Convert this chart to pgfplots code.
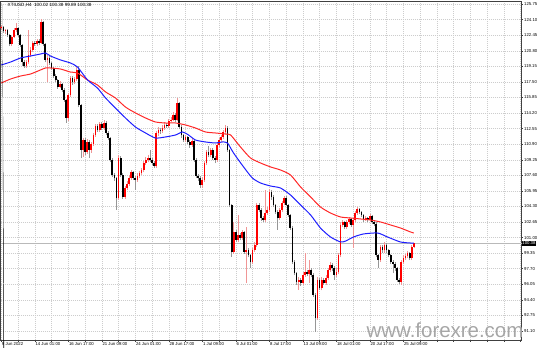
\documentclass[border=0pt]{standalone}
\usepackage{fontspec}
\setmainfont{Liberation Sans}
\usepackage{pgfplots}
\usepackage{pgfplotstable}
\pgfplotsset{compat=1.18}
\definecolor{bull}{RGB}{255,0,0}
\definecolor{bear}{RGB}{0,0,0}
\definecolor{wickup}{RGB}{240,150,150}
\definecolor{wickdn}{RGB}{150,150,150}
\definecolor{maRed}{RGB}{255,40,40}
\definecolor{maBlue}{RGB}{30,30,255}
\definecolor{gridc}{RGB}{205,205,205}
\newcommand{\tf}{\fontsize{4.3}{5}\selectfont}
\begin{document}
\begin{tikzpicture}
\pgfplotstableread{
i o h l c
0 123.21 123.52 123.00 123.31
1 123.31 123.42 122.68 122.89
2 122.89 123.10 122.57 122.99
3 122.99 123.10 122.25 122.46
4 122.46 122.57 121.30 121.51
5 121.51 122.35 121.30 122.25
6 122.25 123.21 122.10 122.99
7 122.99 123.74 122.80 123.21
8 123.21 123.31 122.30 122.46
9 122.46 122.60 121.20 121.41
10 121.41 121.50 119.18 119.60
11 119.60 119.80 118.97 119.18
12 119.18 119.82 119.00 119.60
13 119.60 122.99 119.40 120.35
14 120.35 121.20 120.10 120.87
15 120.87 121.83 120.70 121.62
16 121.62 121.83 121.30 121.51
17 121.51 122.04 121.30 121.83
18 121.83 122.04 121.40 121.62
19 121.62 124.16 121.50 123.84
20 123.84 123.95 121.30 121.51
21 121.51 121.62 119.60 119.82
22 119.82 120.35 117.48 120.03
23 120.03 120.20 119.30 119.50
24 119.50 119.60 118.76 118.97
25 118.97 119.10 117.91 118.12
26 118.12 118.30 117.48 117.70
27 117.70 117.80 116.75 116.97
28 116.97 117.60 116.80 117.27
29 117.27 117.40 116.40 116.64
30 116.64 116.80 115.40 115.58
31 115.58 115.70 113.14 113.67
32 113.67 116.30 113.35 116.11
33 116.11 118.12 115.90 117.91
34 117.91 118.10 117.20 117.48
35 117.48 118.00 117.30 117.80
36 117.80 119.18 117.60 118.76
37 118.76 119.18 114.80 115.05
38 115.05 115.20 109.43 110.28
39 110.28 111.60 109.54 111.34
40 111.34 111.50 109.80 110.07
41 110.07 111.40 109.90 111.13
42 111.13 111.30 109.43 110.28
43 110.28 111.10 110.00 110.91
44 110.91 112.10 110.70 111.87
45 111.87 113.00 111.70 112.82
46 112.82 113.00 112.20 112.40
47 112.40 113.20 112.20 113.03
48 113.03 113.20 112.40 112.61
49 112.61 113.46 112.40 113.14
50 113.14 113.30 111.90 112.08
51 112.08 112.30 111.30 111.56
52 111.56 111.70 109.00 109.22
53 109.22 109.40 107.40 107.63
54 107.63 107.80 107.00 107.31
55 107.31 107.40 103.92 105.19
56 105.19 109.75 105.00 109.43
57 109.43 109.60 107.40 107.63
58 107.63 107.80 105.10 105.30
59 105.30 106.50 105.10 106.25
60 106.25 107.00 106.00 106.68
61 106.68 107.60 106.50 107.31
62 107.31 108.20 107.10 107.95
63 107.95 108.10 107.10 107.31
64 107.31 107.50 106.04 107.10
65 107.10 107.80 106.90 107.52
66 107.52 108.10 107.30 107.84
67 107.84 108.40 107.60 108.16
68 108.16 109.10 107.90 108.90
69 108.90 109.50 108.70 109.22
70 109.22 109.70 109.00 109.43
71 109.43 110.28 109.00 109.22
72 109.22 109.40 108.70 108.90
73 108.90 109.10 108.37 108.58
74 108.58 112.30 108.40 112.08
75 112.08 112.70 111.80 112.40
76 112.40 112.60 112.00 112.29
77 112.29 112.90 112.10 112.61
78 112.61 113.20 112.40 112.93
79 112.93 113.10 112.60 112.82
80 112.82 113.60 112.60 113.35
81 113.35 113.77 113.20 113.46
82 113.46 114.30 113.30 113.99
83 113.99 114.20 113.20 113.46
84 113.46 115.79 113.30 115.26
85 115.26 115.40 112.50 112.71
86 112.71 112.90 111.60 111.87
87 111.87 112.00 111.10 111.34
88 111.34 111.90 111.10 111.66
89 111.66 111.80 110.90 111.13
90 111.13 111.30 110.50 110.81
91 110.81 111.50 110.60 111.23
92 111.23 111.40 109.00 109.22
93 109.22 109.40 107.30 107.52
94 107.52 107.70 107.00 107.31
95 107.31 107.50 106.25 106.57
96 106.57 107.40 106.30 107.10
97 107.10 109.10 106.90 108.90
98 108.90 110.30 108.70 110.07
99 110.07 110.70 109.50 109.75
100 109.75 110.50 109.50 110.28
101 110.28 110.50 109.20 109.43
102 109.43 109.60 108.90 109.22
103 109.22 111.00 109.00 110.81
104 110.81 111.60 110.60 111.34
105 111.34 111.90 111.10 111.66
106 111.66 112.40 111.40 112.19
107 112.19 112.93 112.00 112.61
108 112.61 112.82 110.10 110.28
109 110.28 110.40 104.20 104.45
110 104.45 104.60 98.94 99.47
111 99.47 102.65 99.30 101.59
112 101.59 101.80 100.50 100.74
113 100.74 103.39 100.50 101.27
114 101.27 101.50 100.70 100.95
115 100.95 101.80 100.70 101.59
116 101.59 101.70 99.30 99.47
117 99.47 102.12 96.18 99.68
118 99.68 99.90 98.90 99.15
119 99.15 99.30 97.77 98.41
120 98.41 99.90 98.20 99.68
121 99.68 100.50 99.50 100.21
122 100.21 104.70 100.00 104.45
123 104.45 104.70 103.70 103.92
124 103.92 104.10 102.80 103.07
125 103.07 103.30 102.60 102.86
126 102.86 106.04 102.70 103.60
127 103.60 104.20 103.40 103.92
128 103.92 106.10 103.70 105.83
129 105.83 106.04 105.00 105.30
130 105.30 105.50 104.20 104.45
131 104.45 104.60 103.50 103.71
132 103.71 103.90 101.80 103.07
133 103.07 104.10 102.90 103.92
134 103.92 104.90 103.70 104.66
135 104.66 105.40 104.40 105.19
136 105.19 105.40 104.30 104.45
137 104.45 104.60 103.20 103.39
138 103.39 103.50 101.80 102.01
139 102.01 102.20 98.20 98.41
140 98.41 98.60 97.00 97.24
141 97.24 97.40 96.00 96.29
142 96.29 96.80 95.44 96.50
143 96.50 96.70 95.90 96.18
144 96.18 97.30 96.00 97.03
145 97.03 99.36 96.80 97.35
146 97.35 97.60 96.90 97.14
147 97.14 98.62 96.18 97.56
148 97.56 97.80 96.80 97.03
149 97.03 97.20 94.70 94.91
150 94.91 95.10 90.99 92.47
151 92.47 96.80 92.26 96.50
152 96.50 96.70 95.40 95.66
153 95.66 96.80 95.40 96.50
154 96.50 96.70 95.97 96.18
155 96.18 97.00 96.00 96.71
156 96.71 97.80 96.50 97.56
157 97.56 98.40 97.30 98.09
158 98.09 98.30 97.50 97.77
159 97.77 98.00 96.50 97.03
160 97.03 97.80 96.80 97.35
161 97.35 99.40 97.10 99.15
162 99.15 102.60 98.90 102.33
163 102.33 102.90 102.10 102.65
164 102.65 102.80 101.90 102.12
165 102.12 102.90 101.90 102.65
166 102.65 103.20 102.40 102.97
167 102.97 103.10 102.10 102.33
168 102.33 103.10 99.89 102.86
169 102.86 103.80 102.60 103.60
170 103.60 104.24 103.40 104.03
171 104.03 104.10 103.50 103.71
172 103.71 103.80 103.20 103.39
173 103.39 103.50 102.70 102.97
174 102.97 103.30 102.80 103.07
175 103.07 103.20 102.60 102.86
176 102.86 103.50 102.60 103.28
177 103.28 103.40 102.40 102.65
178 102.65 102.80 102.20 102.44
179 102.44 102.60 98.90 99.15
180 99.15 99.30 97.77 98.62
181 98.62 100.20 98.40 99.99
182 99.99 100.20 99.40 99.68
183 99.68 100.50 99.40 100.21
184 100.21 100.40 99.40 99.68
185 99.68 99.80 98.90 99.15
186 99.15 99.30 98.20 98.41
187 98.41 98.60 97.24 98.20
188 98.20 98.40 97.50 97.77
189 97.77 97.90 96.30 96.50
190 96.50 96.70 96.08 96.29
191 96.29 98.60 95.97 98.41
192 98.41 99.10 98.20 98.83
193 98.83 99.30 98.60 99.05
194 99.05 99.60 98.80 99.36
195 99.36 99.50 98.60 98.83
196 98.83 100.20 98.60 100.02
197 100.02 100.38 99.89 100.38
}\data
\pgfplotstableread{
i p
0 119.29
4.4 119.60
9.2 120.03
13.9 120.24
18.7 120.45
21.1 120.56
23.5 120.24
28.3 119.82
33.0 119.50
36.4 119.07
41.2 117.70
45.9 116.85
49.8 115.79
54.5 114.73
59.3 113.67
64.1 112.71
68.9 112.08
73.6 111.55
78.4 111.66
83.2 111.87
86.5 112.19
89.4 111.87
92.7 111.34
97.5 111.13
102.3 111.02
105.6 111.13
108.0 111.02
110.9 109.96
115.7 108.48
119.9 107.31
123.8 106.78
128.6 106.46
133.3 106.25
138.1 105.51
142.9 104.45
147.7 103.39
152.4 102.01
157.2 101.06
162.0 100.53
164.4 100.63
168.2 101.06
173.0 101.38
179.7 101.48
184.4 101.06
190.6 100.53
195.4 100.42
197 100.42
}\blueMA
\pgfplotstableread{
i p
0 117.38
4.4 117.80
9.2 118.12
13.9 118.33
18.7 118.76
21.1 118.97
23.5 118.97
28.3 118.86
33.0 118.54
36.4 118.44
41.2 117.70
45.9 117.17
49.8 116.43
54.5 115.79
59.3 114.83
64.1 114.20
68.9 113.67
73.6 113.25
78.4 113.14
83.2 113.14
88.0 112.93
92.7 112.61
97.5 112.19
102.3 112.08
107.1 111.97
109.5 111.87
114.2 110.60
119.0 109.43
123.8 108.90
128.6 108.48
133.3 108.16
138.1 107.63
142.9 106.36
147.7 105.30
152.4 104.24
157.2 103.60
162.0 103.18
166.8 103.07
171.5 102.97
176.3 102.86
181.1 102.65
185.9 102.33
190.6 102.01
195.4 101.59
197 101.48
}\redMA
\begin{axis}[
  scale only axis, width=521bp, height=339bp,
  at={(0.5bp,0)}, anchor=south west,
  xmin=-0.38, xmax=248.4, ymin=90.14, ymax=126.07,
  clip=false,
  axis line style={black!75, line width=0.5bp},
  tick style={black!75, line width=0.4bp},
  tick align=outside, major tick length=1.5bp, minor tick length=1.5bp,
  xtick pos=bottom, ytick pos=right, yticklabel pos=right,
  xtick={0,16,...,240},
  minor xtick={8,24,...,248},
  xticklabels={9 Jun 2022,14 Jun 01:00,16 Jun 17:00,21 Jun 09:00,24 Jun 01:00,28 Jun 17:00,1 Jul 09:00,6 Jul 01:00,8 Jul 17:00,13 Jul 09:00,18 Jul 01:00,20 Jul 17:00,25 Jul 09:00,,,},
  ytick={91.10,92.75,94.40,96.05,97.70,99.35,101.00,102.65,104.30,105.95,107.60,109.25,110.90,112.55,114.20,115.85,117.50,119.15,120.80,122.45,124.10,125.75},
  yticklabels={91.10,92.75,94.40,96.05,97.70,99.35,101.00,102.65,104.30,105.95,107.60,109.25,110.90,112.55,114.20,115.85,117.50,119.15,120.80,122.45,124.10,125.75},
  xticklabel style={anchor=north west, inner sep=0.5bp, font=\tf},
  yticklabel style={anchor=west, inner sep=1bp, font=\tf},
  xmajorgrids, xminorgrids, ymajorgrids,
  major grid style={draw=gridc, line width=0.4bp, dash pattern=on 1bp off 1bp},
  minor grid style={draw=gridc, line width=0.4bp, dash pattern=on 1bp off 1bp},
  candle/.style={forget plot, draw=none, mark=none,
    error bars/y dir=plus, error bars/y explicit, error bars/error mark=none},
]
% bid line
\addplot[forget plot, gray!55, line width=0.4bp] coordinates {(-0.38,100.38) (248.4,100.38)};
% wicks
\addplot[candle, restrict expr to domain={\thisrow{c}-\thisrow{o}}{0:1000},
  error bars/error bar style={draw=wickup, line width=0.7bp}]
  table[x=i, y=l, y error expr=\thisrow{h}-\thisrow{l}] {\data};
\addplot[candle, restrict expr to domain={\thisrow{c}-\thisrow{o}}{-1000:-0.000001},
  error bars/error bar style={draw=wickdn, line width=0.7bp}]
  table[x=i, y=l, y error expr=\thisrow{h}-\thisrow{l}] {\data};
% bodies
\addplot[candle, restrict expr to domain={\thisrow{c}-\thisrow{o}}{0:1000},
  error bars/error bar style={draw=bull, line width=1.7bp}]
  table[x=i, y=o, y error expr=\thisrow{c}-\thisrow{o}] {\data};
\addplot[candle, restrict expr to domain={\thisrow{c}-\thisrow{o}}{-1000:-0.000001},
  error bars/error bar style={draw=bear, line width=1.7bp}]
  table[x=i, y=c, y error expr=\thisrow{o}-\thisrow{c}] {\data};
% moving averages
\addplot[maRed, line width=1bp, smooth, tension=0.4, mark=none] table[x=i, y=p] {\redMA};
\addplot[maBlue, line width=1bp, smooth, tension=0.4, mark=none] table[x=i, y=p] {\blueMA};
% price box
\node[anchor=west, fill=black, text=white, inner sep=0.7bp, font=\tf] at (axis cs:248.4,100.38) {100.38};
% title
\fill[black] ([xshift=2bp,yshift=-3.4bp]rel axis cs:0,1) -- ++(3bp,0) -- ++(-1.5bp,-1.8bp) -- cycle;
\node[anchor=west, inner sep=0, font=\fontsize{4.6}{5}\selectfont] at ([xshift=7bp,yshift=-4.3bp]rel axis cs:0,1) {XTIUSD,H4\ \ 100.02 100.38 99.89 100.38};
% watermark
\node[anchor=base west, inner sep=0, text=black!35, font=\fontsize{20.5}{21}\selectfont] at (rel axis cs:0.7025,0.0088) {www.forexre.com};
\end{axis}
\pgfresetboundingbox
\path[use as bounding box] (0,-8bp) rectangle (541bp,340bp);
\end{tikzpicture}
\end{document}
